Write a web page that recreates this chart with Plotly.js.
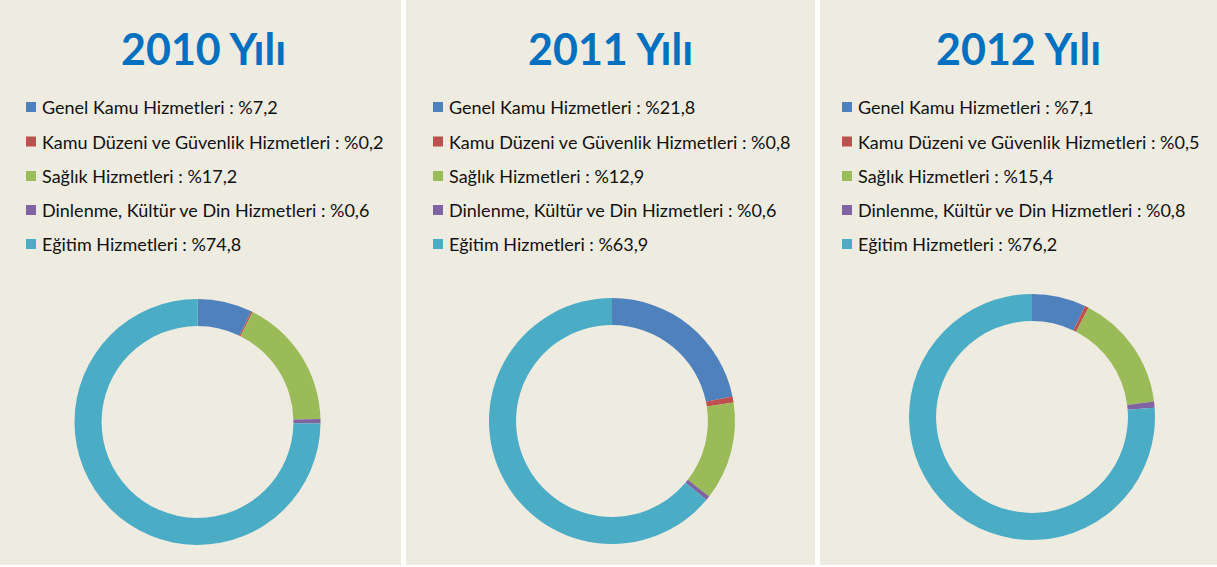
<!DOCTYPE html>
<html>
<head>
<meta charset="utf-8">
<script src="https://cdn.plot.ly/plotly-3.0.1.min.js"></script>
<style>html,body{margin:0;padding:0;background:#fff;}#chart{width:1217px;height:567px;}</style>
</head>
<body>
<div id="chart"></div>
<script>
// Data
const years = ["2010 Yılı", "2011 Yılı", "2012 Yılı"];
const categories = [
  "Genel Kamu Hizmetleri",
  "Kamu Düzeni ve Güvenlik Hizmetleri",
  "Sağlık Hizmetleri",
  "Dinlenme, Kültür ve Din Hizmetleri",
  "Eğitim Hizmetleri"
];
const values2010 = [7.2, 0.2, 17.2, 0.6, 74.8];
const values2011 = [21.8, 0.8, 12.9, 0.6, 63.9];
const values2012 = [7.1, 0.5, 15.4, 0.8, 76.2];
const colors = ["#4F81BD", "#C0504D", "#9BBB59", "#8064A2", "#4BACC6"];

const W = 1217, H = 567;
const allValues = [values2010, values2011, values2012];
// panel geometry (pixels)
const panels = [
  {x0: 0, x1: 401, cx: 197.5, cy: 422, r: 123, sq: 26, title: 203},
  {x0: 406, x1: 815, cx: 612, cy: 421, r: 123, sq: 433, title: 610},
  {x0: 820, x1: 1217, cx: 1032, cy: 417, r: 123, sq: 842, title: 1018}
];
const rowY = [107, 141.5, 176, 210, 244];
const fmt = v => "%" + v.toFixed(1).replace(".", ",");

const traces = [];
const shapes = [];
const annotations = [];
panels.forEach((p, i) => {
  shapes.push({type: "rect", xref: "paper", yref: "paper", layer: "below",
    x0: p.x0 / W, x1: p.x1 / W, y0: 1 - 565 / H, y1: 1,
    fillcolor: "#EEEBE0", line: {width: 0}});
  traces.push({
    type: "pie", values: allValues[i],
    labels: categories.map((c, k) => c + " : " + fmt(allValues[i][k])),
    marker: {colors: colors, line: {width: 0}},
    hole: 0.78, sort: false, direction: "clockwise", rotation: 0,
    textinfo: "none", hoverinfo: "label", showlegend: false,
    domain: {x: [(p.cx - p.r) / W, (p.cx + p.r) / W], y: [1 - (p.cy + p.r) / H, 1 - (p.cy - p.r) / H]}
  });
  annotations.push({xref: "paper", yref: "paper", x: p.title / W, y: 1 - 48 / H,
    xanchor: "center", yanchor: "middle", showarrow: false, text: "<b>" + years[i] + "</b>",
    font: {family: "Lato, 'Open Sans', sans-serif", size: 43, color: "#0070C0"}});
  categories.forEach((c, k) => {
    const y = rowY[k];
    shapes.push({type: "rect", xref: "paper", yref: "paper",
      x0: p.sq / W, x1: (p.sq + 10) / W, y0: 1 - (y + 5) / H, y1: 1 - (y - 5) / H,
      fillcolor: colors[k], line: {width: 0}});
    annotations.push({xref: "paper", yref: "paper", x: (p.sq + 14) / W, y: 1 - y / H,
      xanchor: "left", yanchor: "middle", showarrow: false,
      text: c + " : " + fmt(allValues[i][k]),
      font: {family: "Lato, 'Open Sans', sans-serif", size: 18, color: "#111111"}});
  });
});

Plotly.newPlot("chart", traces, {
  width: W, height: H, margin: {l: 0, r: 0, t: 0, b: 0},
  paper_bgcolor: "#FFFFFF", plot_bgcolor: "#FFFFFF",
  shapes: shapes, annotations: annotations, showlegend: false
}, {displayModeBar: false, staticPlot: true});
</script>
</body>
</html>
